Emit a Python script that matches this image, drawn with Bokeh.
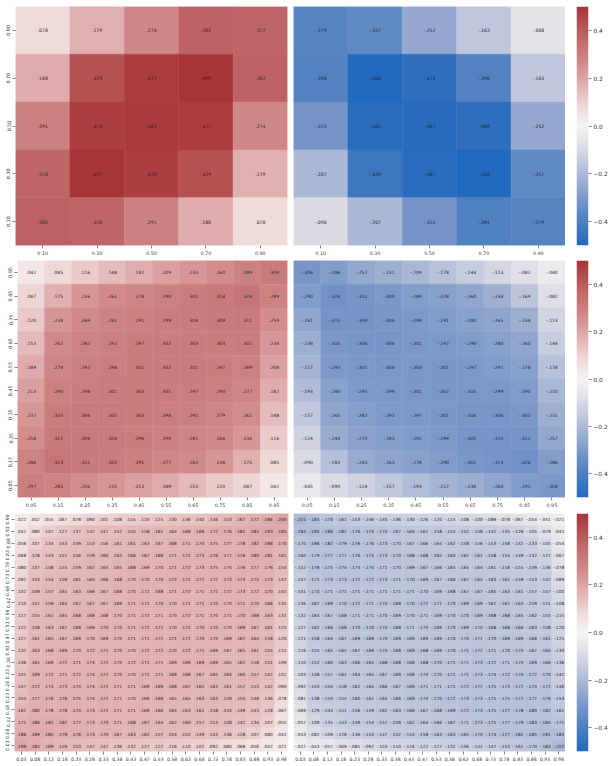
import numpy as np
from bokeh.plotting import figure
from bokeh.layouts import column, row
from bokeh.models import (LinearColorMapper, ColumnDataSource, FactorRange, Range1d,
                          FixedTicker, CustomJSTickFormatter)
from bokeh.core.properties import value
from bokeh.embed import file_html
from bokeh.resources import INLINE

# ---------------- data (rows listed top -> bottom) ----------------
r1_labels = ["0.10", "0.30", "0.50", "0.70", "0.90"]
r1_left = [
    [.078, .179, .274, .382, .377],
    [.188, .429, .477, .499, .382],
    [.291, .474, .483, .477, .274],
    [.378, .497, .476, .429, .179],
    [.385, .378, .291, .188, .078],
]
r1_right = [
    [-.379, -.357, -.252, -.163, -.068],
    [-.390, -.500, -.472, -.390, -.163],
    [-.315, -.481, -.487, -.469, -.252],
    [-.207, -.439, -.481, -.500, -.357],
    [-.090, -.207, -.315, -.391, -.379],
]

r2_labels = ["0.05", "0.15", "0.25", "0.35", "0.45", "0.55", "0.65", "0.75", "0.85", "0.95"]
r2_left = [
    [.042, .085, .116, .148, .182, .209, .233, .260, .289, .309],
    [.087, .175, .236, .262, .278, .290, .301, .314, .324, .289],
    [.120, .238, .269, .282, .291, .299, .304, .309, .311, .259],
    [.153, .262, .282, .292, .297, .302, .303, .303, .301, .234],
    [.189, .278, .292, .298, .301, .302, .301, .297, .289, .208],
    [.213, .290, .298, .301, .303, .301, .297, .290, .277, .182],
    [.237, .303, .306, .305, .303, .298, .291, .279, .261, .148],
    [.258, .311, .308, .304, .298, .290, .281, .266, .236, .116],
    [.286, .323, .311, .302, .291, .277, .262, .238, .175, .085],
    [.297, .285, .256, .235, .213, .189, .153, .120, .087, .042],
]
r2_right = [
    [-.306, -.286, -.257, -.231, -.209, -.178, -.144, -.113, -.082, -.040],
    [-.290, -.324, -.311, -.300, -.289, -.278, -.260, -.234, -.169, -.082],
    [-.261, -.315, -.309, -.304, -.299, -.291, -.280, -.265, -.234, -.113],
    [-.238, -.303, -.306, -.306, -.301, -.297, -.290, -.280, -.260, -.144],
    [-.217, -.293, -.301, -.304, -.303, -.301, -.297, -.291, -.278, -.178],
    [-.193, -.280, -.295, -.299, -.301, -.302, -.303, -.299, -.290, -.210],
    [-.157, -.265, -.282, -.293, -.297, -.301, -.306, -.306, -.301, -.231],
    [-.124, -.244, -.270, -.283, -.292, -.299, -.305, -.310, -.312, -.257],
    [-.090, -.183, -.243, -.263, -.278, -.290, -.302, -.313, -.326, -.286],
    [-.045, -.090, -.124, -.157, -.193, -.217, -.238, -.260, -.291, -.304],
]

r3_labels = ["0.03", "0.08", "0.12", "0.18", "0.23", "0.28", "0.33", "0.38", "0.43", "0.47",
             "0.53", "0.58", "0.62", "0.68", "0.73", "0.78", "0.83", "0.88", "0.93", "0.98"]
r3_left = [
    [.022, .042, .055, .067, .078, .090, .101, .108, .115, .120, .125, .130, .136, .140, .146, .153, .162, .172, .186, .200],
    [.042, .080, .107, .127, .137, .142, .147, .152, .155, .158, .161, .164, .168, .169, .172, .176, .181, .185, .193, .185],
    [.056, .107, .134, .143, .149, .153, .156, .161, .161, .163, .167, .168, .171, .174, .175, .177, .178, .182, .186, .170],
    [.068, .128, .143, .151, .156, .159, .160, .163, .166, .167, .169, .171, .172, .173, .176, .177, .176, .180, .181, .161],
    [.080, .137, .148, .155, .159, .162, .164, .165, .168, .169, .170, .171, .172, .173, .175, .174, .176, .177, .176, .154],
    [.092, .143, .154, .159, .161, .164, .166, .168, .170, .170, .170, .172, .172, .172, .172, .173, .174, .175, .173, .147],
    [.102, .148, .157, .161, .163, .166, .167, .168, .170, .172, .168, .171, .172, .171, .172, .172, .173, .172, .170, .141],
    [.110, .152, .159, .164, .167, .167, .167, .169, .171, .171, .170, .170, .171, .171, .170, .170, .171, .170, .166, .135],
    [.117, .155, .162, .165, .168, .168, .168, .170, .171, .172, .171, .170, .172, .171, .170, .171, .170, .168, .163, .131],
    [.122, .158, .163, .167, .169, .169, .170, .170, .171, .172, .172, .170, .172, .170, .170, .170, .169, .167, .161, .125],
    [.127, .161, .165, .167, .169, .170, .169, .170, .171, .171, .172, .171, .172, .170, .170, .169, .167, .164, .158, .120],
    [.132, .163, .168, .169, .170, .172, .171, .170, .170, .172, .172, .170, .172, .171, .169, .167, .165, .161, .155, .115],
    [.136, .165, .169, .172, .171, .174, .172, .170, .172, .171, .171, .169, .169, .169, .169, .165, .162, .158, .151, .109],
    [.141, .169, .172, .171, .172, .174, .172, .170, .170, .171, .171, .168, .168, .167, .165, .164, .160, .157, .147, .101],
    [.147, .172, .174, .173, .174, .174, .172, .171, .171, .169, .169, .168, .167, .165, .163, .161, .157, .153, .142, .090],
    [.154, .177, .176, .176, .175, .174, .172, .171, .170, .169, .168, .165, .165, .163, .163, .159, .155, .148, .136, .078],
    [.162, .180, .178, .178, .174, .173, .172, .171, .171, .169, .166, .164, .163, .161, .158, .154, .149, .143, .128, .067],
    [.171, .186, .182, .182, .177, .173, .170, .171, .168, .167, .164, .162, .160, .157, .153, .148, .142, .134, .107, .055],
    [.186, .189, .185, .179, .176, .173, .170, .167, .163, .161, .157, .154, .152, .149, .143, .136, .128, .107, .080, .042],
    [.199, .185, .169, .159, .153, .147, .142, .136, .132, .127, .122, .116, .110, .102, .092, .080, .068, .056, .042, .022],
]
r3_right = [
    [-.201, -.185, -.170, -.161, -.153, -.146, -.140, -.136, -.130, -.126, -.120, -.115, -.108, -.100, -.089, -.078, -.067, -.054, -.041, -.021],
    [-.184, -.194, -.186, -.182, -.176, -.174, -.170, -.167, -.164, -.161, -.158, -.155, -.152, -.148, -.142, -.135, -.126, -.105, -.079, -.041],
    [-.170, -.186, -.182, -.179, -.176, -.176, -.173, -.170, -.167, -.166, -.164, -.162, -.158, -.156, -.153, -.148, -.142, -.133, -.105, -.054],
    [-.160, -.179, -.177, -.177, -.176, -.175, -.173, -.170, -.168, -.168, -.165, -.164, -.162, -.161, -.158, -.154, -.149, -.142, -.127, -.067],
    [-.152, -.176, -.175, -.174, -.174, -.174, -.172, -.170, -.169, -.167, -.166, -.165, -.164, -.164, -.161, -.158, -.155, -.149, -.136, -.078],
    [-.147, -.171, -.173, -.173, -.172, -.172, -.173, -.171, -.170, -.169, -.167, -.166, -.167, -.165, -.163, -.161, -.159, -.153, -.142, -.089],
    [-.141, -.170, -.171, -.171, -.171, -.171, -.171, -.171, -.171, -.170, -.169, -.168, -.167, -.167, -.165, -.163, -.161, -.157, -.147, -.100],
    [-.136, -.167, -.169, -.170, -.172, -.171, -.170, -.169, -.170, -.172, -.171, -.170, -.169, -.169, -.167, -.167, -.163, -.159, -.151, -.108],
    [-.132, -.164, -.167, -.168, -.171, -.171, -.170, -.169, -.170, -.171, -.169, -.170, -.170, -.169, -.168, -.168, -.165, -.162, -.155, -.115],
    [-.127, -.162, -.166, -.168, -.170, -.170, -.170, -.169, -.171, -.170, -.169, -.170, -.169, -.170, -.168, -.168, -.166, -.163, -.158, -.120],
    [-.121, -.158, -.164, -.167, -.169, -.169, -.170, -.169, -.169, -.169, -.169, -.170, -.170, -.171, -.170, -.169, -.169, -.166, -.161, -.125],
    [-.116, -.155, -.161, -.165, -.167, -.169, -.170, -.168, -.169, -.168, -.169, -.170, -.171, -.172, -.171, -.170, -.170, -.167, -.164, -.130],
    [-.110, -.152, -.160, -.163, -.166, -.165, -.168, -.168, -.168, -.168, -.170, -.171, -.171, -.173, -.172, -.171, -.170, -.169, -.166, -.136],
    [-.103, -.148, -.157, -.161, -.164, -.165, -.167, -.169, -.168, -.170, -.170, -.171, -.171, -.173, -.174, -.172, -.170, -.172, -.170, -.141],
    [-.092, -.143, -.154, -.158, -.162, -.164, -.166, -.167, -.169, -.171, -.171, -.171, -.172, -.172, -.175, -.173, -.172, -.174, -.172, -.146],
    [-.081, -.138, -.150, -.155, -.160, -.162, -.164, -.166, -.169, -.170, -.170, -.172, -.173, -.173, -.175, -.175, -.177, -.177, -.176, -.153],
    [-.069, -.129, -.144, -.151, -.156, -.159, -.162, -.163, -.166, -.167, -.168, -.169, -.172, -.173, -.175, -.177, -.178, -.180, -.182, -.161],
    [-.057, -.109, -.135, -.143, -.149, -.154, -.157, -.159, -.162, -.164, -.166, -.167, -.171, -.173, -.175, -.177, -.179, -.183, -.185, -.171],
    [-.043, -.082, -.109, -.128, -.136, -.143, -.147, -.152, -.154, -.158, -.163, -.163, -.165, -.170, -.174, -.177, -.181, -.185, -.191, -.184],
    [-.022, -.043, -.057, -.069, -.081, -.092, -.103, -.110, -.116, -.122, -.127, -.132, -.136, -.141, -.147, -.153, -.161, -.170, -.183, -.202],
]

cbar_ticks = [-0.4, -0.2, 0.0, 0.2, 0.4]
vmin, vmax = -0.5, 0.5

# ---------------- colour map (blue - white - red, vlag-like) ----------------
anchors = [
    (0.00, (35, 105, 189)),
    (0.11, (82, 130, 193)),
    (0.185, (118, 148, 200)),
    (0.25, (150, 170, 208)),
    (0.34, (193, 199, 221)),
    (0.43, (226, 226, 232)),
    (0.50, (246, 243, 243)),
    (0.58, (240, 218, 218)),
    (0.68, (224, 174, 175)),
    (0.77, (208, 136, 136)),
    (0.88, (190, 100, 101)),
    (1.00, (168, 52, 57)),
]
at = np.array([a[0] for a in anchors])
ac = np.array([a[1] for a in anchors], dtype=float)
tt = np.linspace(0, 1, 256)
palette = []
for t in tt:
    rgb = [int(round(np.interp(t, at, ac[:, k]))) for k in range(3)]
    palette.append("#%02x%02x%02x" % tuple(rgb))
mapper = LinearColorMapper(palette=palette, low=vmin, high=vmax)

FONT = "DejaVu Sans"


def fmt(v):
    s = "%.3f" % v
    return s.replace("0.", ".", 1)


def style_axes(p, tick_fs):
    for ax in p.axis:
        ax.axis_line_color = None
        ax.major_tick_out = 3
        ax.major_tick_in = 0
        ax.minor_tick_out = 0
        ax.minor_tick_in = 0
        ax.major_tick_line_color = "#333333"
        ax.major_tick_line_width = 0.6
        ax.major_label_text_font_size = tick_fs
        ax.major_label_text_font = FONT
        ax.major_label_text_color = "#333333"
        ax.major_label_standoff = 2


def heat(vals, labels, show_y, width, bl, br, height, bt, bb, ann_fs, tick_fs):
    n = len(labels)
    xs, ys, vs, tx = [], [], [], []
    for i, rv in enumerate(vals):
        ylab = labels[n - 1 - i]
        for j, v in enumerate(rv):
            xs.append(labels[j]); ys.append(ylab); vs.append(v); tx.append(fmt(v))
    src = ColumnDataSource(dict(x=xs, y=ys, v=vs, t=tx))
    p = figure(x_range=FactorRange(*labels), y_range=FactorRange(*labels),
               width=width, height=height, output_backend="svg", toolbar_location=None,
               min_border_left=bl, min_border_right=br, min_border_top=bt, min_border_bottom=bb,
               y_axis_location="left" if show_y else None)
    p.rect(x="x", y="y", width=1, height=1, source=src,
           fill_color={"field": "v", "transform": mapper},
           line_color={"field": "v", "transform": mapper}, line_width=0.5)
    p.text(x="x", y="y", text="t", source=src, text_align="center", text_baseline="middle",
           text_font=value(FONT), text_font_size=ann_fs, text_color="#262626")
    p.grid.visible = False
    p.outline_line_color = None
    style_axes(p, tick_fs)
    if show_y:
        p.yaxis.major_label_orientation = "vertical"
    return p


def cbar(height, bt, bb):
    p = figure(x_range=Range1d(0, 1), y_range=Range1d(vmin, vmax), width=47, height=height,
               output_backend="svg", toolbar_location=None, x_axis_location=None,
               y_axis_location="right", min_border_left=11, min_border_right=24,
               min_border_top=bt, min_border_bottom=bb)
    grad = np.linspace(vmin, vmax, 512).reshape(-1, 1)
    p.image(image=[grad], x=0, y=vmin, dw=1, dh=vmax - vmin, color_mapper=mapper)
    p.grid.visible = False
    p.outline_line_color = None
    style_axes(p, "5.8px")
    p.yaxis.ticker = FixedTicker(ticks=cbar_ticks)
    p.yaxis.formatter = CustomJSTickFormatter(
        code="return (tick < -1e-9 ? '\u2212' : '') + Math.abs(tick).toFixed(1);")
    return p


rows = []
specs = [
    (r1_left, r1_right, r1_labels, 260, 6, 15, 15, 272, "4.6px", "4.8px"),
    (r2_left, r2_right, r2_labels, 253, 0, 16, 17, 270, "4.5px", "4.8px"),
    (r3_left, r3_right, r3_labels, 253, 0, 15, 14, 274, "4.3px", "4.6px"),
]
for lv, rvv, labs, h, bt, bb, bl, fw, afs, tfs in specs:
    left = heat(lv, labs, True, 290, bl, 290 - bl - fw, h, bt, bb, afs, tfs)
    right = heat(rvv, labs, False, 275, 3, 0, h, bt, bb, afs, tfs)
    cb = cbar(h, bt, bb)
    rows.append(row(left, right, cb, spacing=0))

layout = column(*rows, spacing=0)
open("out.html", "w").write(file_html(layout, INLINE))
